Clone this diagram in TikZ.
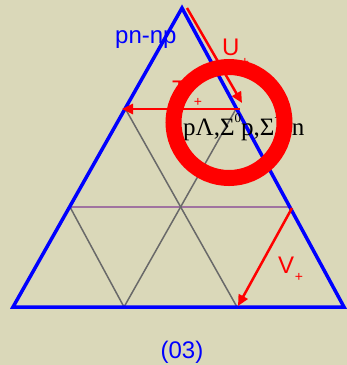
\documentclass[tikz,border=0pt]{standalone}
\usepackage{fontspec}
\setmainfont{Liberation Sans}
\newfontfamily\serifgr{Liberation Serif}
\usetikzlibrary{arrows.meta}
\definecolor{bgbeige}{RGB}{218,216,185}
\definecolor{gridgray}{RGB}{105,105,105}
\definecolor{gridmauve}{RGB}{160,115,160}
\tikzset{
  side/.style={draw=blue, line width=3.5pt, line join=miter},
  gridline/.style={draw=gridgray, line width=1.5pt},
  midline/.style={draw=gridmauve, line width=2pt},
  redarrow/.style={draw=red, line width=2.5pt, -{Triangle[length=11pt,width=10pt]}},
  lab/.style={inner sep=0pt, font=\fontsize{24}{28}\selectfont},
  sublab/.style={inner sep=0pt, font=\fontsize{14}{16}\selectfont, text=red},
  ring/.style={draw=red, line width=16pt}
}
\newcommand{\supsc}[1]{\raisebox{0.5em}{\fontsize{13}{13}\selectfont #1}}
\begin{document}
\begin{tikzpicture}[x=1pt,y=-1pt]
\fill[bgbeige] (0,0) rectangle (347,365);
\useasboundingbox (0,0) rectangle (347,365);
% corners and grid points
\coordinate (A) at (182,8);
\coordinate (BL) at (13,307);
\coordinate (BR) at (344,307);
\coordinate (L1) at (70,207);
\coordinate (L2) at (125.5,109);
\coordinate (R1) at (291,207);
\coordinate (R2) at (236,109);
\coordinate (B1) at (124,307);
\coordinate (B2) at (237,307);
% grid
\draw[midline] (L1) -- (R1);
\draw[gridline] (L1) -- (B1);
\draw[gridline] (B1) -- (R2);
\draw[gridline] (L2) -- (B2);
% triangle
\draw[side] (A) -- (BL) -- (BR) -- cycle;
% red arrows
\coordinate (Us) at (187,8);
\coordinate (Ue) at (242,103);
\draw[redarrow] (Us) -- (Ue);
\coordinate (Ts) at (240,109);
\coordinate (Te) at (122,109);
\draw[redarrow] (Ts) -- (Te);
\coordinate (Vs) at (292,208);
\coordinate (Ve) at (238,306);
\draw[redarrow] (Vs) -- (Ve);
% labels
\node[lab, text=blue, anchor=base west] (pn) at (115,43) {pn-np};
\node[lab, text=red, anchor=base west] (U) at (222,55) {U};
\node[sublab] (Up) at (245,62) {+};
\node[lab, text=red, anchor=base west] (T) at (172,97) {T};
\node[sublab] (Tp) at (198,102) {+};
\node[lab, text=red, anchor=base west] (V) at (278,273) {V};
\node[sublab] (Vp) at (299,277) {+};
\node[inner sep=0pt, anchor=base west, font=\serifgr\fontsize{25}{29}\selectfont] (hyp) at (183,135) {pΛ,Σ\supsc{0}p,Σ\supsc{+}\kern10pt n};
\node[lab, text=blue, anchor=base] (num) at (182,358) {(03)};
% annotation ring
\draw[ring] (229,122.5) circle[radius=55.5];
\end{tikzpicture}
\end{document}
